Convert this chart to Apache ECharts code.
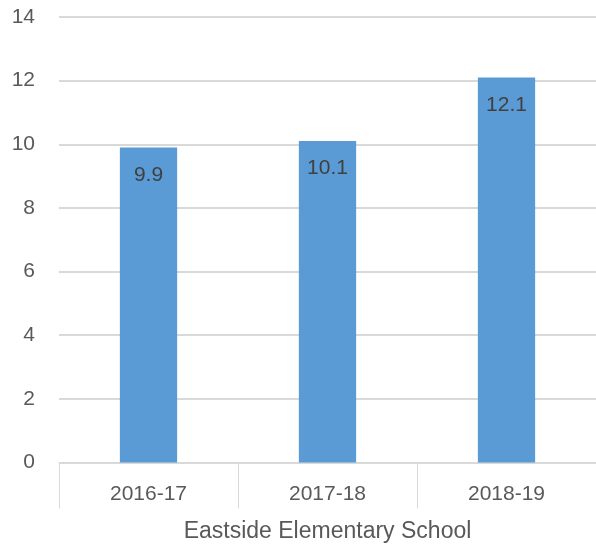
<!DOCTYPE html>
<html><head><meta charset="utf-8">
<script src="https://cdn.jsdelivr.net/npm/echarts@6/dist/echarts.min.js"></script>
<style>html,body{margin:0;padding:0;background:#fff}#c{width:596px;height:548px}</style>
</head><body><div id="c"></div>
<script>
const categories = ['2016-17', '2017-18', '2018-19'];
const values = [9.9, 10.1, 12.1];
const groupLabel = 'Eastside Elementary School';
const yMin = 0, yMax = 14, yStep = 2;

const FONT = '"Liberation Sans", "DejaVu Sans", sans-serif';
const chart = echarts.init(document.getElementById('c'), null, {renderer: 'canvas'});
chart.setOption({
  animation: false,
  grid: {left: 59, right: -1, top: 17, bottom: 83, containLabel: false},
  xAxis: {
    type: 'category',
    data: categories,
    boundaryGap: true,
    axisLine: {show: true, lineStyle: {color: '#d9d9d9', width: 1}},
    axisTick: {show: true, length: 46, interval: 0, alignWithLabel: false, lineStyle: {color: '#d9d9d9', width: 1}},
    axisLabel: {color: '#595959', fontSize: 21, fontFamily: FONT, margin: 21, interval: 0},
    name: groupLabel,
    nameLocation: 'middle',
    nameGap: 69,
    nameTextStyle: {color: '#595959', fontSize: 23, fontFamily: FONT, verticalAlign: 'middle'}
  },
  yAxis: {
    type: 'value',
    min: yMin, max: yMax, interval: yStep,
    axisLine: {show: false},
    axisTick: {show: false},
    axisLabel: {color: '#595959', fontSize: 21, fontFamily: FONT, margin: 24},
    splitLine: {show: true, lineStyle: {color: '#d9d9d9', width: 2}}
  },
  series: [{
    type: 'bar',
    data: values,
    barWidth: '32%',
    itemStyle: {color: '#5b9bd5'},
    label: {
      show: true, position: 'insideTop', distance: 17,
      color: '#404040', fontSize: 21, fontFamily: FONT,
      formatter: p => p.value.toFixed(1)
    }
  }]
});
</script></body></html>
